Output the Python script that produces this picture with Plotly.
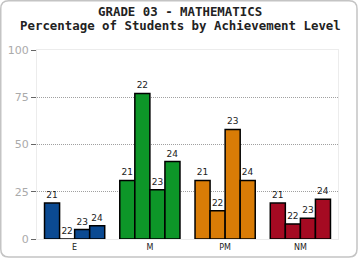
import plotly.graph_objects as go

categories = ["E", "M", "PM", "NM"]
years = ["21", "22", "23", "24"]
values = {
    "21": [19, 31, 31, 19],
    "22": [0, 77, 15, 8],
    "23": [5, 26, 58, 11],
    "24": [7, 41, 31, 21],
}
cat_colors = ["#0b4a92", "#0d9628", "#d97c06", "#a50a22"]
y_ticks = [0, 25, 50, 75, 100]
title_lines = ["GRADE 03 - MATHEMATICS", "Percentage of Students by Achievement Level"]

L, R, T, B = 37, 22, 50, 21
W, H = 360, 260
PW, PH = W - L - R, H - T - B

def px(x):
    return (x - L) / PW

def py(y):
    return (H - B - y) / PH

fig = go.Figure()
for yr in years:
    fig.add_trace(go.Bar(
        x=categories, y=values[yr], name=yr,
        marker=dict(color=cat_colors, line=dict(color="black", width=1.5)),
        text=[yr] * len(categories), textposition="outside",
        textfont=dict(family="DejaVu Sans", size=9, color="#222"),
        cliponaxis=False,
    ))

fig.update_layout(
    width=W, height=H,
    margin=dict(l=L, r=R, t=T, b=B, autoexpand=False),
    paper_bgcolor="white", plot_bgcolor="white",
    barmode="group", bargap=0.2, bargroupgap=0,
    showlegend=False,
    xaxis=dict(
        showgrid=False, ticks="", showline=True, linecolor="#ececec", mirror=True,
        automargin=False,
        tickfont=dict(family="DejaVu Sans", size=8, color="#222"),
    ),
    yaxis=dict(
        range=[0, 100], tickvals=y_ticks, showgrid=True, gridcolor="#a0a0a0",
        griddash="1px,1px", gridwidth=1, automargin=False,
        ticks="outside", ticklen=5, tickcolor="#666",
        showline=True, linecolor="#ececec", mirror=True, zeroline=False,
        tickfont=dict(family="DejaVu Sans", size=11, color="#aaaaaa"),
    ),
)
for i, line in enumerate(title_lines):
    fig.add_annotation(
        text="<b>" + line + "</b>", xref="paper", yref="paper",
        x=px(180), y=py(11.5 + 14 * i), xanchor="center", yanchor="middle",
        showarrow=False, borderpad=0,
        font=dict(family="DejaVu Sans Mono", size=12.4, color="#222"),
    )

# rounded outer frame
x0, x1, y0, y1, r = 0.75, 357, 0.75, 257, 8
path = (
    f"M {px(x0 + r)},{py(y0)} L {px(x1 - r)},{py(y0)} "
    f"Q {px(x1)},{py(y0)} {px(x1)},{py(y0 + r)} "
    f"L {px(x1)},{py(y1 - r)} Q {px(x1)},{py(y1)} {px(x1 - r)},{py(y1)} "
    f"L {px(x0 + r)},{py(y1)} Q {px(x0)},{py(y1)} {px(x0)},{py(y1 - r)} "
    f"L {px(x0)},{py(y0 + r)} Q {px(x0)},{py(y0)} {px(x0 + r)},{py(y0)} Z"
)
fig.add_shape(type="path", xref="paper", yref="paper", path=path,
              line=dict(color="#c4c4c4", width=1.5), layer="below")
fig.write_html("out.html")
